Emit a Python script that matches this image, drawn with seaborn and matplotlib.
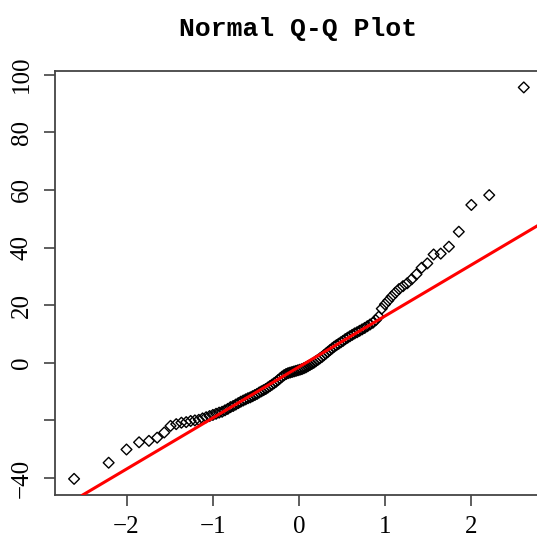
import numpy as np
import pandas as pd
import matplotlib
matplotlib.use("Agg")
import matplotlib.pyplot as plt
import seaborn as sns
from statistics import NormalDist

# Sorted sample values (n = 110)
sample_values = [
    -40.3, -34.7, -30.1, -27.6, -27.1, -26.0, -24.2, -21.9, -21.3, -20.8,
    -20.6, -20.2, -20.0, -19.8, -19.3, -18.9, -18.5, -18.1, -17.7, -17.3,
    -17.0, -16.5, -16.0, -15.4, -15.0, -14.5, -14.0, -13.5, -13.1, -12.7,
    -12.3, -12.0, -11.6, -11.2, -10.8, -10.3, -9.9, -9.5, -9.1, -8.6,
    -8.1, -7.6, -7.1, -6.6, -6.0, -5.4, -4.8, -4.3, -3.9, -3.6,
    -3.4, -3.2, -3.0, -2.8, -2.6, -2.4, -2.2, -1.9, -1.6, -1.2,
    -0.8, -0.4, 0.0, 0.5, 1.0, 1.5, 2.0, 2.6, 3.2, 3.8,
    4.4, 5.0, 5.6, 6.1, 6.6, 7.1, 7.6, 8.2, 8.7, 9.2,
    9.7, 10.2, 10.6, 11.1, 11.6, 12.1, 12.7, 13.3, 13.9, 14.8,
    16.0, 18.8, 20.3, 21.6, 23.0, 24.3, 25.6, 26.6, 27.6, 29.0,
    30.7, 33.0, 34.5, 37.6, 37.9, 40.3, 45.5, 54.8, 58.2, 95.6,
]

title_text = "Normal Q-Q Plot"
x_ticks = [-2, -1, 0, 1, 2]
x_tick_labels = ["\u22122", "\u22121", "0", "1", "2"]
y_ticks = [-40, -20, 0, 20, 40, 60, 80, 100]
y_tick_labels = ["\u221240", "", "0", "20", "40", "60", "80", "100"]

n = len(sample_values)
nd = NormalDist()
theoretical = [nd.inv_cdf((i + 0.5) / n) for i in range(n)]
df = pd.DataFrame({"theoretical": theoretical, "sample": sorted(sample_values)})

# qqline: through first and third quartiles
q1, q3 = np.quantile(df["sample"], [0.25, 0.75])
z1, z3 = nd.inv_cdf(0.25), nd.inv_cdf(0.75)
slope = (q3 - q1) / (z3 - z1)
intercept = q1 - slope * z1

W, H = 537, 539
fig = plt.figure(figsize=(W / 100, H / 100), dpi=100)
ax = fig.add_axes([55 / W, 44 / H, 487 / W, 424 / H])

sns.scatterplot(data=df, x="theoretical", y="sample", ax=ax, marker="D",
                s=30, facecolors="none", edgecolor="black", linewidth=1.0,
                legend=False, zorder=2)
ax.axline((0, intercept), slope=slope, color="#ff0000", lw=2.2, zorder=3)

ax.set_xlim(-2.83, 2.82)
ax.set_ylim(-45.9, 101.3)
ax.set_xlabel("")
ax.set_ylabel("")

tick_font = dict(family=["Liberation Serif", "DejaVu Serif"], size=18)
ax.set_xticks(x_ticks)
ax.set_xticklabels(x_tick_labels, fontdict=tick_font)
ax.set_yticks(y_ticks)
ax.set_yticklabels(y_tick_labels, fontdict=tick_font, rotation=90, va="center")
ax.tick_params(axis="both", direction="out", length=8, width=1.1, color="#333333")
ax.tick_params(axis="x", pad=7)
ax.tick_params(axis="y", pad=8)

for side in ["left", "top", "bottom", "right"]:
    ax.spines[side].set_color("#444444")
    ax.spines[side].set_linewidth(1.3)
ax.set_facecolor("white")
fig.patch.set_facecolor("white")

fig.text(298 / W, 1 - 29 / H, title_text, ha="center", va="center",
         fontsize=19, fontweight="bold",
         family=["Liberation Mono", "DejaVu Sans Mono"])

fig.savefig("out.png", dpi=100)
